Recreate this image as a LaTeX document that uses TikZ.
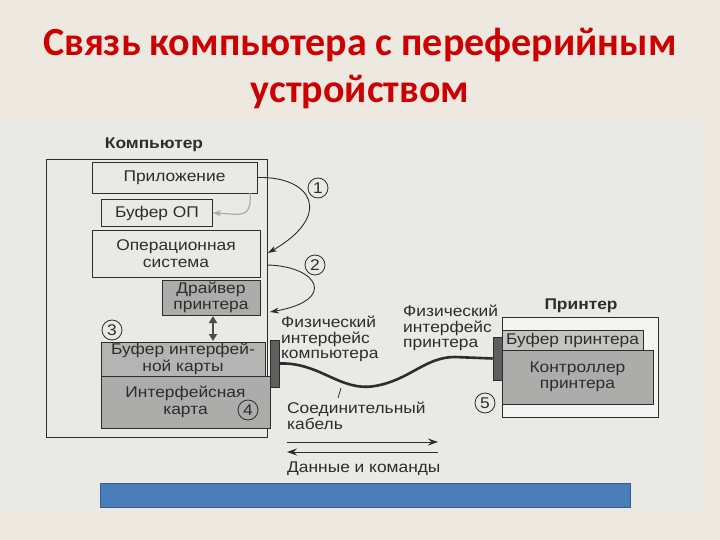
\documentclass[tikz,border=0pt]{standalone}
\usepackage{fontspec}
\setmainfont{Liberation Sans}[FakeStretch=1.12]
\newfontfamily\titlefont{Carlito}
\usetikzlibrary{arrows.meta}
\definecolor{slidebg}{RGB}{238,233,224}
\definecolor{scanbg}{RGB}{233,233,230}
\definecolor{titlered}{RGB}{204,0,0}
\definecolor{ink}{RGB}{45,45,45}
\definecolor{cardgray}{RGB}{172,172,170}
\definecolor{bufgray}{RGB}{196,196,193}
\definecolor{portgray}{RGB}{95,95,95}
\definecolor{barblue}{RGB}{74,126,187}
\definecolor{barline}{RGB}{56,93,138}
\begin{document}
    \begin{tikzpicture}[x=1pt,y=-1pt,
        titlestyle/.style={anchor=base,inner sep=0pt,text=titlered,font=\titlefont\bfseries\fontsize{40}{40}\selectfont},
        boxstyle/.style={draw=ink,line width=0.9pt,fill=scanbg,text=ink,inner sep=0pt,align=center,font=\fontsize{15.5}{16.5}\selectfont},
        grayboxstyle/.style={boxstyle,fill=cardgray},
        headstyle/.style={anchor=base,inner sep=0pt,text=ink,font=\bfseries\fontsize{15.5}{16}\selectfont},
        portstyle/.style={draw=ink,line width=0.6pt,fill=portgray,inner sep=0pt},
        numstyle/.style={circle,draw=ink,line width=0.8pt,inner sep=0pt,minimum size=20,text=ink,font=\fontsize{15.5}{16}\selectfont},
        lblstyle/.style={anchor=north west,inner sep=0pt,align=left,text=ink,font=\fontsize{15.5}{15.5}\selectfont},
        flowarrow/.style={-{Stealth[length=9pt,width=6pt]},draw=ink,line width=0.9pt},
        memarrow/.style={-{Stealth[length=8pt,width=6pt]},draw=ink!40,line width=1.2pt},
        duplexarrow/.style={{Triangle[length=7pt,width=8pt]}-{Triangle[length=7pt,width=8pt]},draw=ink!85,line width=2.2pt},
        dataarrow/.style={-{Stealth[length=10pt,width=7pt]},draw=ink,line width=0.9pt},
        cable/.style={draw=ink,line width=2.6pt}]

        % slide and scanned page
        \fill[slidebg] (0,0) rectangle (720,540);
        \fill[scanbg] (0,123) rectangle (703,512);
        \useasboundingbox (0,0) rectangle (720,540);

        \node[titlestyle] (title1) at (360,56) {Связь компьютера с переферийным};
        \node[titlestyle] (title2) at (360,103) {устройством};

        % computer
        \node[draw=ink,line width=1pt,minimum width=221,minimum height=277] (comp) at (156.5,298.5) {};
        \node[headstyle] (complbl) at (154,149) {Компьютер};
        \node[boxstyle,minimum width=165,minimum height=31] (app) at (174.5,177.5) {Приложение};
        \node[boxstyle,minimum width=111,minimum height=27] (bufop) at (157,213) {Буфер ОП};
        \node[boxstyle,minimum width=168,minimum height=47] (os) at (176,253.5) {Операционная\\система};
        \node[grayboxstyle,minimum width=98,minimum height=35] (drv) at (211,297.5) {Драйвер\\принтера};
        \node[grayboxstyle,minimum width=169,minimum height=52] (card) at (185.5,402) {Интерфейсная\\карта};
        \node[grayboxstyle,fill=cardgray!90!white,minimum width=164,minimum height=34] (bufcard) at (183,359) {Буфер интерфей-\\ной карты};
        \node[portstyle,minimum width=9,minimum height=47] (pcport) at (274.5,363.5) {};

        % printer
        \node[draw=ink,line width=1pt,fill=scanbg!50!white,minimum width=156,minimum height=100] (prn) at (580,367) {};
        \node[headstyle] (prnlbl) at (581,309) {Принтер};
        \node[grayboxstyle,minimum width=151,minimum height=54] (ctrl) at (577.5,377) {Контроллер\\принтера};
        \node[grayboxstyle,fill=bufgray,inner sep=1pt,minimum width=141,minimum height=20] (prnbuf) at (572.5,340) {Буфер принтера};
        \node[portstyle,minimum width=9,minimum height=43] (prnport) at (497.5,358.5) {};

        \foreach \n/\px/\py in {1/318/188,2/315/265,3/112/330,4/248/410,5/485/403}
            \node[numstyle] (n\n) at (\px,\py) {\n};

        \node[lblstyle] (pcif) at (281,316) {Физический\\интерфейс\\компьютера};
        \node[lblstyle] (prnif) at (403,305) {Физический\\интерфейс\\принтера};
        \node[lblstyle] (cablbl) at (287,402) {Соединительный\\кабель};
        \node[lblstyle] (datalbl) at (287,462) {Данные и команды};

        % arrows
        \coordinate (memstart) at (250,193);
        \coordinate (a1end) at (268,253);
        \coordinate (a2start) at (267,265);
        \coordinate (a2end) at (270,312);
        \coordinate (dtop) at (213,316);
        \coordinate (dbot) at (213,341);
        \draw[flowarrow] (app.east) .. controls (312,176) and (334,215) .. (a1end);
        \draw[flowarrow] (a2start) .. controls (318,266) and (338,300) .. (a2end);
        \draw[memarrow] (memstart) .. controls (252,220) and (240,214) .. (bufop.east);
        \draw[duplexarrow] (dtop) -- (dbot);

        \draw[cable] (pcport.east) .. controls (320,362) and (340,392) .. (375,386)
            .. controls (410,380) and (425,357) .. (455,357) -- (prnport.west);
        \coordinate (cabtick) at (341,388);
        \coordinate (cabtip) at (338,398);
        \draw[ink,line width=0.8pt] (cabtick) -- (cabtip);

        \coordinate (dl) at (287,442);
        \coordinate (dr) at (438,442);
        \coordinate (dl2) at (287,452);
        \coordinate (dr2) at (438,452);
        \draw[dataarrow] (dl) -- (dr);
        \draw[dataarrow] (dr2) -- (dl2);

        \node[draw=barline,line width=1pt,fill=barblue,minimum width=530,minimum height=24,inner sep=0pt] (bar) at (365,495) {};
    \end{tikzpicture}
\end{document}
